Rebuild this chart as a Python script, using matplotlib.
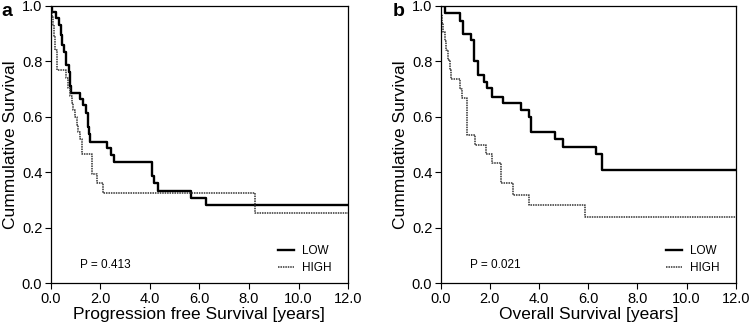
import numpy as np
import matplotlib
matplotlib.use("Agg")
import matplotlib.pyplot as plt

plt.rcParams['font.family'] = ['Liberation Sans', 'DejaVu Sans']

# panel a: progression free survival (step times in years, survival after step)
pfs_low_t = [0.0, 0.05, 0.2, 0.33, 0.42, 0.47, 0.54, 0.6, 0.73, 0.78, 0.81, 1.18, 1.32, 1.42,
             1.5, 1.55, 1.6, 2.26, 2.42, 2.57, 4.07, 4.18, 4.31, 5.66, 6.25, 12.0]
pfs_low_s = [1.0, 0.978, 0.957, 0.93, 0.895, 0.86, 0.835, 0.787, 0.76, 0.71, 0.687, 0.663, 0.643, 0.613,
             0.565, 0.537, 0.511, 0.487, 0.463, 0.439, 0.385, 0.36, 0.334, 0.309, 0.284, 0.284]
pfs_high_t = [0.0, 0.02, 0.06, 0.1, 0.15, 0.19, 0.24, 0.6, 0.68, 0.76, 0.85, 0.92, 0.98, 1.05,
              1.12, 1.18, 1.25, 1.65, 1.85, 2.1, 8.25, 12.0]
pfs_high_s = [1.0, 0.98, 0.96, 0.93, 0.89, 0.84, 0.77, 0.74, 0.705, 0.675, 0.65, 0.625, 0.6, 0.57,
              0.545, 0.52, 0.465, 0.395, 0.36, 0.327, 0.255, 0.255]

# panel b: overall survival
os_low_t = [0.0, 0.19, 0.77, 0.9, 1.24, 1.37, 1.51, 1.75, 1.89, 2.09, 2.52, 3.27, 3.61, 3.68,
            4.65, 4.98, 6.3, 6.55, 12.0]
os_low_s = [1.0, 0.974, 0.947, 0.90, 0.877, 0.80, 0.751, 0.727, 0.703, 0.673, 0.651, 0.625, 0.60, 0.547,
            0.52, 0.493, 0.466, 0.409, 0.409]
os_high_t = [0.0, 0.03, 0.07, 0.1, 0.17, 0.2, 0.3, 0.37, 0.43, 0.77, 0.87, 1.08, 1.39, 1.83,
             2.1, 2.44, 2.95, 3.61, 5.87, 12.0]
os_high_s = [1.0, 0.97, 0.94, 0.907, 0.873, 0.84, 0.805, 0.77, 0.735, 0.70, 0.667, 0.535, 0.50, 0.467,
             0.433, 0.36, 0.318, 0.282, 0.24, 0.24]

panels = [
    ('a', 'Progression free Survival [years]', 'P = 0.413', pfs_low_t, pfs_low_s, pfs_high_t, pfs_high_s),
    ('b', 'Overall Survival [years]', 'P = 0.021', os_low_t, os_low_s, os_high_t, os_high_s),
]

fig = plt.figure(figsize=(7.51, 3.26), dpi=100)
lefts = [0.0675, 0.5868]
widths = [0.396, 0.393]
for k, (tag, xlab, ptxt, lt, ls, ht, hs) in enumerate(panels):
    ax = fig.add_axes([lefts[k], 0.131, widths[k], 0.851])
    ax.step(lt, ls, where='post', color='black', lw=1.7, label='LOW')
    ax.step(ht, hs, where='post', color='#333333', lw=1.1, linestyle=(0, (1, 0.6)), label='HIGH')
    ax.set_xlim(0, 12)
    ax.set_ylim(0, 1.0)
    ax.set_xticks(np.arange(0, 12.1, 2.0))
    ax.set_xticklabels(['%.1f' % v for v in np.arange(0, 12.1, 2.0)])
    ax.set_yticks(np.arange(0, 1.01, 0.2))
    ax.set_yticklabels(['%.1f' % v for v in np.arange(0, 1.01, 0.2)])
    ax.tick_params(direction='out', length=4, width=0.8, labelsize=10.5, pad=2)
    for sp in ax.spines.values():
        sp.set_linewidth(0.9)
    ax.set_xlabel(xlab, fontsize=12.5, labelpad=1)
    ax.set_ylabel('Cummulative Survival', fontsize=12.5, labelpad=3)
    ax.text(0.1, 0.055, ptxt, transform=ax.transAxes, fontsize=8.5)
    ax.legend(loc='lower right', frameon=False, fontsize=8.5, handlelength=1.3,
              handletextpad=0.7, labelspacing=0.45, bbox_to_anchor=(0.98, -0.005))
    fig.text(lefts[k] - 0.0675 + (0.002 if k == 0 else 0.004), 0.965, tag,
             fontsize=14, fontweight='bold', va='center')

fig.savefig('out.png', dpi=100)
